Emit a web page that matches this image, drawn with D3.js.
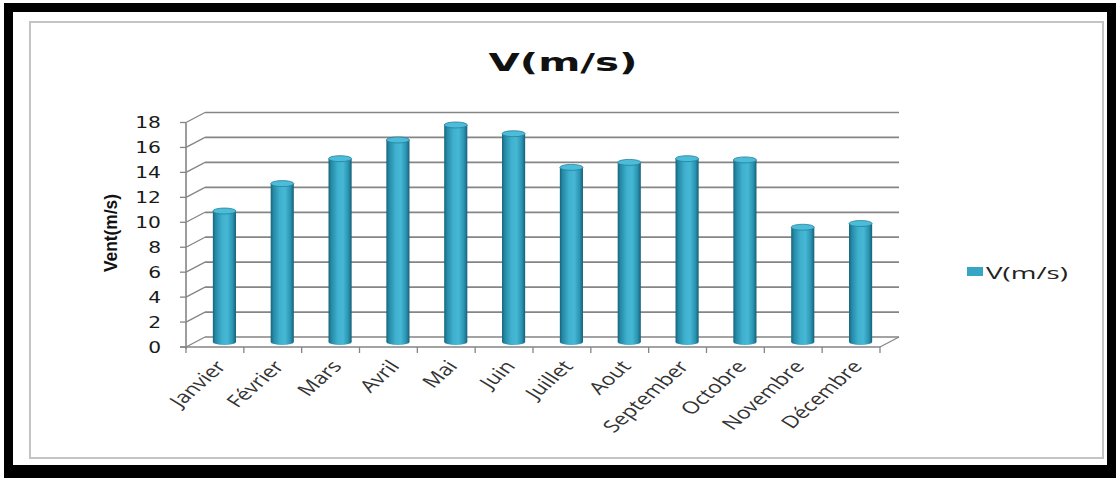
<!DOCTYPE html>
<html>
<head>
<meta charset="utf-8">
<script src="https://cdn.jsdelivr.net/npm/d3@7"></script>
<style>
  body { margin: 0; background: #fff; }
  svg { display: block; }
</style>
</head>
<body>
<svg id="chart" width="1116" height="478"></svg>
<script>
// chart data
var months = ["Janvier", "Février", "Mars", "Avril", "Mai", "Juin", "Juillet",
              "Aout", "September", "Octobre", "Novembre", "Décembre"];
var speeds = [10.5, 12.7, 14.7, 16.2, 17.4, 16.7, 14.0, 14.4, 14.7, 14.6, 9.2, 9.5];
var yTicks = [0, 2, 4, 6, 8, 10, 12, 14, 16, 18];
var seriesName = "V(m/s)";
var yTitle = "Vent(m/s)";

var svg = d3.select("#chart");
var sx = 1.35; // the picture is stretched sideways

// frame
svg.append("rect").attr("x", 4).attr("y", 3).attr("width", 1112).attr("height", 475).attr("fill", "#000");
svg.append("rect").attr("x", 13).attr("y", 12).attr("width", 1094).attr("height", 453).attr("fill", "#fff");
svg.append("rect").attr("x", 30).attr("y", 22).attr("width", 1073).attr("height", 436)
  .attr("fill", "#fff").attr("stroke", "#c4c4c4").attr("stroke-width", 2);

// 3d offsets
var dx = 19, dy = -10;
var x = d3.scaleBand().domain(months).range([186, 880]);
var y = d3.scaleLinear().domain([0, 18]).range([347, 122.5]);

var grid = "#858585";
var g = svg.append("g");

// back wall + left wall lines
yTicks.forEach(function(t){
  g.append("line")
    .attr("x1", 186 + dx).attr("y1", y(t) + dy)
    .attr("x2", 880 + dx).attr("y2", y(t) + dy)
    .attr("stroke", grid).attr("stroke-width", 1.7);
  g.append("line")
    .attr("x1", 186).attr("y1", y(t))
    .attr("x2", 186 + dx).attr("y2", y(t) + dy)
    .attr("stroke", grid).attr("stroke-width", 1.3);
  g.append("line")
    .attr("x1", 180).attr("y1", y(t))
    .attr("x2", 186).attr("y2", y(t))
    .attr("stroke", grid).attr("stroke-width", 1.3);
});

// vertical axis
g.append("line").attr("x1", 186).attr("y1", y(18)).attr("x2", 186).attr("y2", y(0) + 2)
  .attr("stroke", grid).attr("stroke-width", 1.6);

// floor
g.append("line").attr("x1", 180).attr("y1", y(0)).attr("x2", 880).attr("y2", y(0))
  .attr("stroke", grid).attr("stroke-width", 1.6);
g.append("line").attr("x1", 880).attr("y1", y(0)).attr("x2", 880 + dx).attr("y2", y(0) + dy)
  .attr("stroke", grid).attr("stroke-width", 1.3);
months.concat(["end"]).forEach(function(m, i){
  var xx = i < months.length ? x(m) : 880;
  g.append("line").attr("x1", xx).attr("y1", y(0)).attr("x2", xx).attr("y2", y(0) + 6)
    .attr("stroke", grid).attr("stroke-width", 1.3);
});

// cylinder gradient
var defs = svg.append("defs");
var grad = defs.append("linearGradient").attr("id", "cyl").attr("x1", 0).attr("x2", 1).attr("y1", 0).attr("y2", 0);
[["0%", "#17647a"], ["12%", "#2589a6"], ["40%", "#3fb1cf"], ["62%", "#46b8d5"], ["85%", "#2b95b2"], ["100%", "#166079"]]
  .forEach(function(s){ grad.append("stop").attr("offset", s[0]).attr("stop-color", s[1]); });

var bw = x.bandwidth() * 0.4;
var ry = 3;
var bars = g.selectAll(".bar").data(speeds).enter().append("g").attr("class", "bar");
bars.append("ellipse")
  .attr("cx", function(d, i){ return x(months[i]) + x.bandwidth() / 2 + dx / 2; })
  .attr("cy", y(0) + dy / 2)
  .attr("rx", bw / 2).attr("ry", ry).attr("fill", "url(#cyl)");
bars.append("rect")
  .attr("x", function(d, i){ return x(months[i]) + x.bandwidth() / 2 + dx / 2 - bw / 2; })
  .attr("y", function(d){ return y(d) + dy / 2; })
  .attr("width", bw)
  .attr("height", function(d){ return y(0) - y(d); })
  .attr("fill", "url(#cyl)");
bars.append("ellipse")
  .attr("cx", function(d, i){ return x(months[i]) + x.bandwidth() / 2 + dx / 2; })
  .attr("cy", function(d){ return y(d) + dy / 2; })
  .attr("rx", bw / 2).attr("ry", ry)
  .attr("fill", "#4cbcd8").attr("stroke", "#23809b").attr("stroke-width", 0.8);

// y tick labels
g.selectAll(".ytl").data(yTicks).enter().append("text")
  .attr("transform", function(d){ return "translate(161," + (y(d) + 5.5) + ") scale(" + sx + ",1)"; })
  .attr("text-anchor", "end")
  .attr("font-family", "DejaVu Sans, sans-serif").attr("font-size", 15)
  .attr("fill", "#1a1a1a")
  .text(function(d){ return d; });

// y title
svg.append("text")
  .attr("transform", "translate(117,233) scale(" + sx + ",1) rotate(-90)")
  .attr("text-anchor", "middle")
  .attr("font-family", "Liberation Sans Narrow, Liberation Sans, sans-serif")
  .attr("font-weight", "bold").attr("font-size", 14)
  .attr("textLength", 78).attr("lengthAdjust", "spacingAndGlyphs")
  .attr("fill", "#111")
  .text(yTitle);

// x labels
g.selectAll(".xtl").data(months).enter().append("text")
  .attr("transform", function(d){
    return "translate(" + (x(d) + x.bandwidth() / 2 + 6) + ",363) scale(" + sx + ",1) rotate(-50)";
  })
  .attr("text-anchor", "end")
  .attr("dy", "0.35em")
  .attr("font-family", "Open Sans, sans-serif").attr("font-size", 17)
  .attr("fill", "#333")
  .text(function(d){ return d; });

// title
svg.append("text")
  .attr("x", 563).attr("y", 71)
  .attr("text-anchor", "middle")
  .attr("font-family", "DejaVu Sans, sans-serif").attr("font-weight", "bold").attr("font-size", 25)
  .attr("textLength", 149).attr("lengthAdjust", "spacingAndGlyphs")
  .attr("fill", "#111")
  .text(seriesName);

// legend
svg.append("rect").attr("x", 967).attr("y", 267).attr("width", 16).attr("height", 9).attr("fill", "#36a6c4");
svg.append("text")
  .attr("x", 986).attr("y", 279)
  .attr("font-family", "Open Sans, sans-serif").attr("font-size", 16)
  .attr("textLength", 82).attr("lengthAdjust", "spacingAndGlyphs")
  .attr("fill", "#222")
  .text(seriesName);
</script>
</body>
</html>
